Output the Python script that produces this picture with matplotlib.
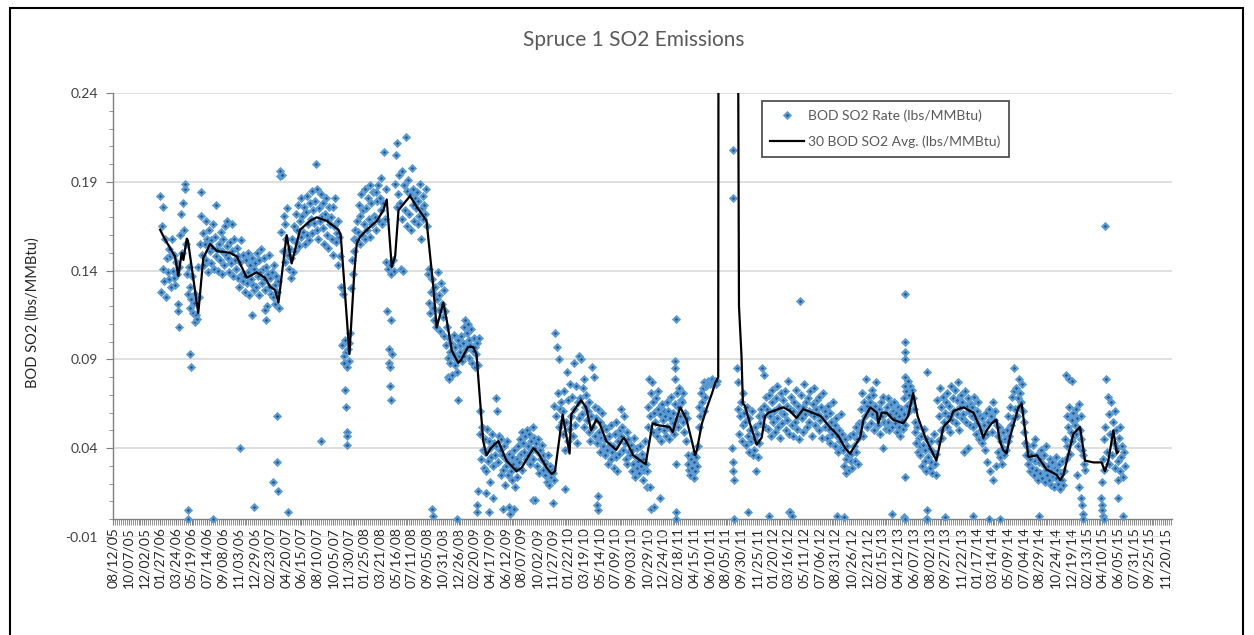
import pandas as pd
import matplotlib
matplotlib.use("Agg")
import matplotlib.pyplot as plt
from matplotlib.patches import Rectangle

plt.rcParams["font.family"] = ["Lato", "DejaVu Sans"]

# BOD SO2 rate (lbs/MMBtu), one value every 3 days from each block start
rate_2006 = [
    .182, .128, .165, .141, .176, .134, .158, .125, .147, .139,
    .152, .135, .148, .131, .158, .140, .136, .149, .132, .145,
    .138, .121, .108, .142, .160, .172, .150, .178, .163, .186,
    .189, .155, .138, .127, .142, .119, .131, .124, .137, .116,
    .122, .111, .127, .115, .113, .142, .125, .155, .171, .184,
    .149, .161, .143, .155, .168, .146, .158, .139, .163, .151,
    .157, .144, .153, .166, .141, .159, .148, .177, .152, .140,
    .155, .146, .162, .138, .151, .158, .143, .165, .149, .154,
    .168, .147, .139, .156, .144, .166, .151, .137, .158, .146,
    .141, .153, .136, .148, .131, .145, .157, .138, .134, .149,
    .137, .128, .146, .133, .150, .139, .126, .143, .135, .147,
    .132, .141, .129]
rate_2007 = [
    .144, .131, .150, .137, .126, .146, .139, .152, .133, .141,
    .135, .147, .129, .142, .120, .138, .149, .131, .136, .127,
    .139, .125, .143, .132, .121, .137, .128, .134, .119, .193,
    .196, .162, .194, .151, .171, .145, .166, .158, .175, .149,
    .141, .152, .136, .147, .158, .139, .165, .151, .172, .156,
    .163, .177, .154, .168, .181, .159, .171, .162, .176, .155,
    .173, .160, .182, .166, .157, .178, .169, .185, .161, .174,
    .167, .179, .200, .163, .186, .158, .175, .168, .183, .171,
    .164, .178, .155, .172, .181, .160, .169, .153, .176, .166,
    .170, .158, .176, .149, .165, .181, .156, .161, .143, .168,
    .159, .148, .131, .098, .127, .092, .088, .101, .094, .086,
    .096, .089, .099, .105, .130, .146, .138, .158, .151, .163,
    .157, .168]
rate_2008 = [
    .162, .177, .155, .171, .183, .160, .174, .166, .186, .158,
    .175, .163, .181, .169, .188, .159, .178, .166, .184, .171,
    .170, .184, .163, .179, .188, .168, .181, .174, .192, .166,
    .178, .207, .169, .186, .145, .117, .141, .096, .143, .112,
    .138, .093, .146, .140, .189, .205, .176, .212, .183, .194,
    .178, .141, .196, .169, .140, .188, .174, .215, .185, .165,
    .191, .172, .183, .163, .198, .177, .186, .168, .181, .175,
    .184, .166, .179, .171, .189, .158, .175, .182, .169, .177,
    .172, .186, .165, .138, .122, .141, .116, .128, .135, .119,
    .127, .112, .131, .108, .124, .139, .118, .126, .106, .133,
    .121, .114, .129, .103, .117, .098, .108, .091, .102, .094,
    .088, .099, .081, .093, .104, .087, .097, .090, .083, .101,
    .092, .098]
rate_2009 = [
    .094, .103, .089, .099, .108, .092, .112, .096, .105, .110,
    .101, .091, .098, .107, .088, .095, .102, .086, .097, .093,
    .099, .087, .102, .048, .061, .034, .052, .039, .029, .045,
    .038, .027, .051, .033, .044, .021, .040, .035, .048, .030,
    .043, .036, .068, .041, .061, .032, .047, .039, .025, .045,
    .036, .028, .041, .019, .034, .030, .044, .025, .037, .031,
    .027, .035, .022, .031, .039, .018, .029, .034, .024, .041,
    .032, .045, .037, .049, .028, .043, .038, .047, .034, .050,
    .041, .036, .048, .031, .044, .039, .052, .034, .046, .040,
    .043, .030, .038, .045, .026, .039, .034, .042, .028, .036,
    .033, .025, .031, .021, .036, .027, .019, .030, .024, .028,
    .026, .022, .064, .105, .058, .097, .071, .052, .090, .062,
    .066, .055]
rate_2010 = [
    .061, .048, .072, .039, .055, .083, .044, .067, .051, .076,
    .058, .069, .047, .088, .062, .053, .075, .043, .066, .057,
    .092, .068, .090, .059, .074, .052, .079, .063, .070, .056,
    .061, .049, .066, .044, .058, .086, .052, .080, .047, .063,
    .057, .043, .062, .049, .038, .055, .046, .060, .041, .052,
    .045, .036, .051, .039, .031, .047, .042, .034, .053, .038,
    .041, .029, .048, .035, .055, .027, .044, .037, .050, .062,
    .047, .052, .039, .058, .043, .034, .049, .031, .045, .038,
    .036, .042, .027, .039, .031, .046, .024, .035, .029, .040,
    .033, .026, .041, .030, .037, .022, .034, .028, .044, .031,
    .027, .052, .063, .079, .058, .071, .077, .049, .066, .060,
    .055, .068, .047, .062, .072, .051, .059, .044, .065, .056,
    .061, .050]
rate_2011a = [
    .058, .047, .066, .052, .061, .045, .057, .069, .050, .054,
    .060, .048, .065, .056, .071, .052, .063, .074, .058, .067,
    .066, .055, .071, .049, .060, .044, .057, .036, .031, .028,
    .025, .034, .029, .037, .023, .032, .027, .035, .030, .041,
    .052, .063, .058, .071, .066, .074, .061, .077, .069, .075,
    .076, .078, .077, .076, .078, .077, .079, .076, .077, .078,
    .077, .076, .078]
rate_2011b = [
    .085, .062, .077, .048, .058, .066, .044, .071, .053, .060,
    .055, .042, .063, .047, .038, .057, .050, .044, .061, .036,
    .045, .039, .052, .027, .048, .035, .058, .043, .054, .062,
    .085, .058, .081, .064, .052, .069]
rate_2012 = [
    .062, .051, .070, .058, .047, .066, .073, .055, .061, .049,
    .068, .057, .075, .052, .063, .046, .071, .060, .054, .067,
    .059, .072, .050, .064, .056, .078, .048, .062, .069, .053,
    .061, .047, .066, .055, .073, .051, .058, .064, .045, .060,
    .070, .057, .063, .049, .076, .059, .066, .052, .068, .061,
    .055, .072, .060, .047, .065, .058, .074, .053, .062, .067,
    .059, .050, .069, .056, .063, .046, .071, .057, .061, .052,
    .058, .046, .064, .051, .043, .060, .055, .048, .066, .050,
    .053, .041, .057, .047, .038, .050, .044, .059, .040, .048,
    .039, .030, .045, .034, .026, .041, .036, .028, .047, .033,
    .037, .029, .048, .041, .033, .052, .038, .045, .031, .054,
    .049, .062, .055, .071, .047, .066, .058, .079, .052, .064,
    .061, .069]
rate_2013 = [
    .066, .054, .073, .059, .070, .050, .064, .077, .057, .061,
    .053, .062, .048, .066, .058, .040, .069, .055, .060, .051,
    .063, .055, .068, .050, .059, .065, .052, .061, .057, .066,
    .054, .060, .049, .063, .052, .058, .047, .062, .056, .051,
    .059, .068, .053, .072, .064, .078, .061, .070, .075, .066,
    .073, .068, .062, .055, .049, .043, .052, .038, .046, .041,
    .036, .047, .030, .042, .051, .033, .039, .027, .045, .035,
    .040, .029, .044, .032, .026, .038, .048, .031, .037, .025,
    .067, .044, .058, .074, .050, .063, .046, .069, .055, .060,
    .066, .052, .071, .058, .064, .049, .075, .060, .056, .068,
    .061, .073, .054, .067, .059, .077, .050, .063, .070, .057,
    .066, .059, .038, .072, .055, .064, .040, .068, .061, .053,
    .065, .058]
rate_2014 = [
    .063, .052, .069, .057, .048, .061, .054, .066, .045, .058,
    .050, .043, .057, .046, .053, .039, .060, .048, .032, .055,
    .062, .027, .058, .049, .066, .022, .056, .061, .030, .053,
    .047, .038, .052, .035, .044, .031, .049, .040, .036, .045,
    .039, .050, .044, .058, .047, .063, .053, .069, .057, .072,
    .085, .062, .074, .058, .068, .079, .063, .071, .066, .076,
    .061, .055, .049, .043, .036, .041, .031, .038, .027, .034,
    .037, .029, .042, .025, .033, .045, .028, .036, .022, .032,
    .034, .026, .039, .023, .031, .036, .021, .028, .041, .025,
    .030, .022, .034, .019, .027, .032, .024, .018, .029, .035,
    .023, .028, .020, .031, .017, .026, .022, .033, .019, .027,
    .045, .034, .058, .041, .052, .063, .037, .049, .056, .044,
    .060, .047]
rate_2015a = [.053, .062, .048, .057, .041, .065, .050, .045, .058, .039,
              .036, .031, .028]
rate_2015b = [
    .021, .034, .045, .028, .052, .079, .038, .069, .031, .059,
    .048, .066, .036, .055, .043, .061, .029, .050, .040, .033,
    .046, .027, .052, .035, .041, .024, .038, .030]
block_starts = ["2006-01-27", "2007-01-01", "2008-01-02", "2009-01-01", "2010-01-01",
                "2011-01-01", "2011-09-14", "2012-01-01", "2013-01-01", "2014-01-01",
                "2015-01-01", "2015-04-08"]

# stray readings that sit away from the main band
odd_dates = [
    "2006-04-02", "2006-05-05", "2006-05-05", "2006-05-15", "2006-05-16", "2006-08-02",
    "2006-11-08", "2006-12-20", "2006-12-26", "2007-02-04", "2007-02-10", "2007-03-06",
    "2007-03-21", "2007-03-21", "2007-03-22", "2007-04-28", "2007-08-25", "2007-11-17",
    "2007-11-20", "2007-11-24", "2007-11-25", "2007-11-26", "2008-04-21", "2008-04-24",
    "2008-04-27", "2008-04-30", "2008-09-21", "2008-09-25", "2008-11-17", "2008-11-23",
    "2008-12-19", "2008-12-25", "2009-03-01", "2009-03-02", "2009-03-04", "2009-04-03",
    "2009-04-12", "2009-04-27", "2009-06-01", "2009-06-25", "2009-06-28", "2009-07-12",
    "2009-09-17", "2009-09-23", "2009-11-28", "2010-01-09", "2010-05-05", "2010-05-07",
    "2010-05-09", "2010-10-28", "2010-11-08", "2010-11-13", "2010-11-23", "2010-12-14",
    "2011-02-05", "2011-02-06", "2011-02-07", "2011-02-08", "2011-02-08", "2011-02-09",
    "2011-02-10", "2011-08-28", "2011-08-30", "2011-09-01", "2011-09-01", "2011-09-02",
    "2011-09-03", "2011-09-06", "2011-10-25", "2012-01-08", "2012-03-19", "2012-03-22",
    "2012-03-28", "2012-04-26", "2012-09-06", "2012-10-01", "2013-03-22", "2013-05-03",
    "2013-05-05", "2013-05-05", "2013-05-05", "2013-05-06", "2013-05-06", "2013-05-06",
    "2013-05-06", "2013-05-05", "2013-07-21", "2013-07-22", "2013-07-22", "2013-07-23",
    "2013-09-27", "2014-01-04", "2014-03-03", "2014-04-11", "2014-08-27", "2014-11-30",
    "2014-12-10", "2014-12-22", "2015-01-10", "2015-01-16", "2015-01-22", "2015-01-26",
    "2015-01-29", "2015-01-31", "2015-04-05", "2015-04-08", "2015-04-10", "2015-04-12",
    "2015-04-14", "2015-04-19", "2015-06-03", "2015-06-06", "2015-06-22"]
odd_vals = [
    .117, .005, .000, .093, .086, .000,
    .040, .115, .007, .118, .112, .021,
    .058, .032, .016, .004, .044, .073,
    .063, .049, .047, .042, .088, .086,
    .075, .067, .006, .002, .080, .079,
    .000, .067, .008, .004, .016, .015,
    .004, .012, .006, .007, .003, .006,
    .011, .011, .009, .017, .008, .013,
    .005, .018, .018, .006, .007, .012,
    .089, .085, .079, .113, .031, .004,
    .000, .040, .032, .027, .208, .181,
    .022, .000, .004, .002, .004, .004,
    .002, .123, .002, .001, .003, .001,
    .127, .100, .094, .090, .080, .075,
    .024, .000, .000, .083, .005, .000,
    .001, .002, .000, .000, .002, .081,
    .079, .078, .025, .018, .012, .008,
    .003, .000, .012, .008, .005, .002,
    .000, .165, .022, .012, .002]

# 30 BOD average, breakpoints
avg_dates = [
    "2006-01-27", "2006-02-12", "2006-03-21", "2006-04-02", "2006-04-14", "2006-04-20",
    "2006-05-02", "2006-05-06", "2006-06-12", "2006-06-30", "2006-07-24", "2006-08-17",
    "2006-10-03", "2006-10-27", "2006-11-14", "2006-12-02", "2007-01-06", "2007-02-05",
    "2007-02-23", "2007-03-13", "2007-03-25", "2007-04-23", "2007-05-11", "2007-06-10",
    "2007-07-16", "2007-08-08", "2007-09-13", "2007-10-25", "2007-11-02", "2007-12-03",
    "2007-12-20", "2007-12-29", "2008-01-10", "2008-02-03", "2008-03-10", "2008-04-02",
    "2008-04-14", "2008-05-02", "2008-05-14", "2008-05-26", "2008-07-06", "2008-07-30",
    "2008-09-03", "2008-09-27", "2008-10-09", "2008-11-02", "2008-11-14", "2008-12-02",
    "2008-12-25", "2009-01-05", "2009-01-29", "2009-02-16", "2009-02-28", "2009-03-24",
    "2009-04-05", "2009-04-20", "2009-05-17", "2009-06-15", "2009-07-21", "2009-08-08",
    "2009-09-19", "2009-10-07", "2009-11-05", "2009-11-23", "2009-12-05", "2010-01-01",
    "2010-01-26", "2010-02-01", "2010-03-08", "2010-03-26", "2010-04-13", "2010-05-01",
    "2010-05-13", "2010-06-06", "2010-07-11", "2010-08-07", "2010-08-16", "2010-09-10",
    "2010-10-24", "2010-11-18", "2010-12-06", "2011-01-17", "2011-01-29", "2011-02-10",
    "2011-02-25", "2011-03-19", "2011-04-07", "2011-04-19", "2011-04-25", "2011-05-13",
    "2011-05-31", "2011-06-18", "2011-06-30", "2011-07-10", "2011-07-12", "2011-09-14",
    "2011-09-22", "2011-10-01", "2011-10-06", "2011-10-13", "2011-10-31", "2011-11-24",
    "2011-12-12", "2011-12-24", "2012-01-05", "2012-02-27", "2012-03-22", "2012-04-14",
    "2012-05-08", "2012-06-10", "2012-07-10", "2012-08-10", "2012-09-10", "2012-10-05",
    "2012-10-22", "2012-11-27", "2012-12-09", "2013-01-02", "2013-01-26", "2013-01-31",
    "2013-02-12", "2013-03-01", "2013-03-25", "2013-04-30", "2013-05-17", "2013-06-04",
    "2013-06-20", "2013-07-20", "2013-08-26", "2013-09-20", "2013-10-14", "2013-10-26",
    "2013-12-01", "2014-01-05", "2014-01-28", "2014-02-09", "2014-02-21", "2014-03-11",
    "2014-03-28", "2014-04-09", "2014-04-21", "2014-05-03", "2014-05-15", "2014-06-02",
    "2014-06-14", "2014-06-26", "2014-07-20", "2014-08-19", "2014-09-05", "2014-09-23",
    "2014-10-29", "2014-11-10", "2014-11-22", "2014-12-27", "2015-01-20", "2015-02-07",
    "2015-03-09", "2015-04-07", "2015-04-19", "2015-05-01", "2015-05-19", "2015-05-31",
    "2015-06-05"]
avg_vals = [
    .163, .158, .148, .137, .150, .146,
    .158, .157, .116, .147, .155, .151,
    .150, .148, .142, .136, .139, .136,
    .131, .129, .122, .160, .144, .163,
    .168, .170, .168, .163, .160, .093,
    .138, .155, .159, .163, .168, .174,
    .180, .142, .148, .174, .182, .176,
    .168, .131, .108, .122, .112, .095,
    .088, .090, .097, .097, .093, .044,
    .036, .040, .044, .033, .027, .029,
    .040, .037, .029, .0255, .027, .059,
    .037, .059, .067, .063, .050, .056,
    .054, .044, .039, .046, .044, .036,
    .031, .054, .053, .052, .049, .056,
    .063, .056, .044, .036, .039, .054,
    .063, .071, .077, .080, .50, .50,
    .12, .092, .065, .064, .054, .042,
    .046, .058, .060, .063, .061, .057,
    .062, .060, .058, .052, .047, .040,
    .037, .046, .056, .063, .060, .054,
    .060, .060, .056, .054, .058, .071,
    .058, .045, .033, .052, .056, .061,
    .063, .060, .052, .046, .050, .054,
    .056, .044, .039, .037, .046, .056,
    .063, .065, .035, .036, .032, .028,
    .025, .022, .025, .048, .052, .033,
    .032, .032, .027, .033, .050, .037,
    .038]

rate_blocks = [rate_2006, rate_2007, rate_2008, rate_2009, rate_2010, rate_2011a,
               rate_2011b, rate_2012, rate_2013, rate_2014, rate_2015a, rate_2015b]

rate_x, rate_y = [], []
for start, vals in zip(block_starts, rate_blocks):
    rate_x.extend(pd.date_range(start, periods=len(vals), freq="3D"))
    rate_y.extend(vals)
rate_x.extend(pd.to_datetime(odd_dates))
rate_y.extend(odd_vals)

W, H = 1254, 635
fig = plt.figure(figsize=(W / 100, H / 100), dpi=100)
ax = fig.add_axes([113 / W, 1 - 537 / H, (1172 - 113) / W, (537 - 93) / H])

# move the date axis up to y = 0 first: set_position rebuilds the ticks
ax.spines["bottom"].set_position(("data", 0))

ax.plot(rate_x, rate_y, ls="none", marker="D", ms=3.2, mfc="#24588c", mec="#5b9bd5",
        mew=1.5, label="BOD SO2 Rate (lbs/MMBtu)", zorder=3)
ax.plot(pd.to_datetime(avg_dates), avg_vals, color="black", lw=1.6,
        label="30 BOD SO2 Avg. (lbs/MMBtu)", zorder=4)

ax.set_ylim(-0.01, 0.24)
ax.set_xlim(pd.Timestamp("2005-08-12"), pd.Timestamp("2015-12-14"))

ax.set_yticks([-0.01, 0.04, 0.09, 0.14, 0.19, 0.24])
ax.set_yticks([v / 100 for v in range(0, 24)], minor=True)
ax.set_yticklabels(["-0.01", "0.04", "0.09", "0.14", "0.19", "0.24"])
ax.yaxis.grid(True, which="major", color="#d9d9d9", lw=1.2)
ax.set_axisbelow(True)

major_x = pd.date_range("2005-08-12", "2015-11-20", freq="56D")
ax.set_xticks(major_x)
ax.set_xticks(pd.date_range("2005-08-12", "2015-12-14", freq="7D"), minor=True)
ax.set_xticklabels([d.strftime("%m/%d/%y") for d in major_x])

ax.spines["left"].set_bounds(0, 0.24)
for s in ["top", "right"]:
    ax.spines[s].set_visible(False)
for s in ["bottom", "left"]:
    ax.spines[s].set_color("#7f7f7f")
    ax.spines[s].set_linewidth(1.0)

ax.tick_params(axis="x", which="both", direction="out", length=4, color="#7f7f7f",
               labelsize=10, labelcolor="#262626", pad=1.5, labelrotation=90)
ax.tick_params(axis="y", which="major", direction="out", length=5, color="#7f7f7f",
               labelsize=10, labelcolor="#404040", pad=6)
ax.tick_params(axis="y", which="minor", direction="out", length=3, color="#7f7f7f")

fig.text(634 / W, 1 - 40 / H, "Spruce 1 SO2 Emissions", ha="center", va="center",
         fontsize=15, color="#595959")
fig.text(33 / W, 1 - 313 / H, "BOD SO2 (lbs/MMBtu)", rotation=90, ha="center",
         va="center", fontsize=10.5, color="#262626")

leg = ax.legend(loc="upper left", bbox_to_anchor=(762 / W, 1 - 101 / H),
                bbox_transform=fig.transFigure, fontsize=10, frameon=True,
                fancybox=False, borderaxespad=0, borderpad=0.6, labelspacing=1.0,
                handlelength=2.4, handletextpad=0.3)
leg.get_frame().set_edgecolor("#262626")
leg.get_frame().set_linewidth(1.3)
for t in leg.get_texts():
    t.set_color("#595959")

fig.add_artist(Rectangle((10 / W, -0.1), (1243 - 10) / W, (H - 8) / H + 0.1,
                         transform=fig.transFigure, fill=False, ec="black", lw=1.5,
                         clip_on=False))

fig.savefig("out.png", dpi=100)
